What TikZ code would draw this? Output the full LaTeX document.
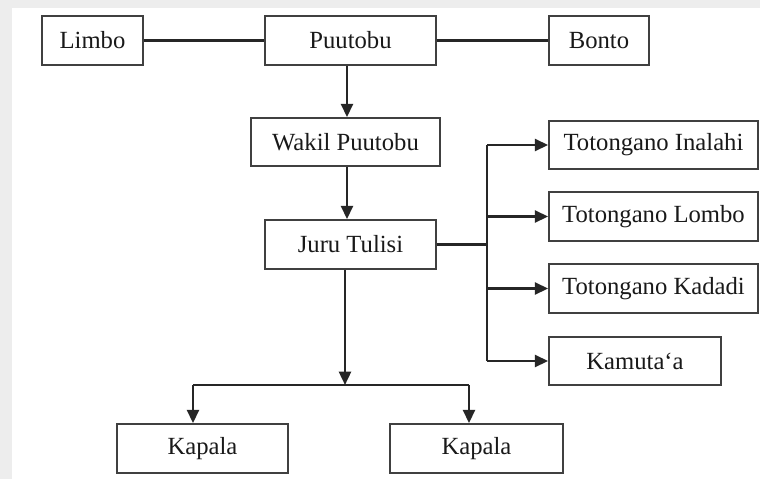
\documentclass[tikz,border=0pt]{standalone}
\usepackage{fontspec}
\setmainfont{Liberation Serif}
\usetikzlibrary{arrows.meta}
\tikzset{
  box/.style={draw=black!75, line width=1.3pt, inner sep=0pt, fill=white, text=black!90,
    font=\fontsize{18.5}{21}\selectfont},
  link/.style={draw=black!85, line width=1.8pt},
  arr/.style={link, -{Triangle[length=10pt,width=9pt]}},
}
\newcommand\bx[6]{\node[box, minimum width={(#4-#2)*0.75pt}, minimum height={(#5-#3)*0.75pt}] (#1) at ({(#2+#4)/2},{(#3+#5)/2}) {#6};}
\begin{document}
\begin{tikzpicture}[x=0.75pt,y=-0.75pt]
\useasboundingbox (0,0) rectangle (760,479);
\fill[black!7] (0,0) rectangle (760,479);
\fill[white] (12,8) rectangle (760,479);
% boxes
\bx{li}{42}{16}{143}{65}{Limbo}
\bx{pu}{265}{16}{436}{65}{Puutobu}
\bx{bo}{549}{16}{649}{65}{Bonto}
\bx{wk}{251}{118}{440}{166}{Wakil Puutobu}
\bx{jt}{265}{220}{436}{269}{Juru Tulisi}
\bx{ti}{549}{121}{758}{169}{Totongano Inalahi}
\bx{tl}{549}{192}{758}{241}{Totongano Lombo}
\bx{tk}{549}{264}{758}{313}{Totongano Kadadi}
\bx{km}{549}{337}{721}{385}{Kamuta‘a}
\bx{k1}{117}{424}{288}{473}{Kapala}
\bx{k2}{390}{424}{563}{473}{Kapala}
% helper coordinates
\coordinate (spine) at (347,0);
\coordinate (bus) at (487,244.5);
\coordinate (split) at (345,385);
\coordinate (lft) at (193,385);
\coordinate (rgt) at (469,385);
% connectors
\draw[link] (li.east) -- (pu.west);
\draw[link] (pu.east) -- (bo.west);
\draw[arr] (spine |- pu.south) -- (spine |- wk.north);
\draw[arr] (spine |- wk.south) -- (spine |- jt.north);
\draw[link] (jt.east) -- (bus);
\draw[link] (bus |- ti.west) -- (bus |- km.west);
\draw[arr] (bus |- ti.west) -- (ti.west);
\draw[arr] (bus |- tl.west) -- (tl.west);
\draw[arr] (bus |- tk.west) -- (tk.west);
\draw[arr] (bus |- km.west) -- (km.west);
\draw[arr] (split |- jt.south) -- (split);
\draw[link] (lft) -- (rgt);
\draw[arr] (lft) -- (lft |- k1.north);
\draw[arr] (rgt) -- (rgt |- k2.north);
\end{tikzpicture}
\end{document}
